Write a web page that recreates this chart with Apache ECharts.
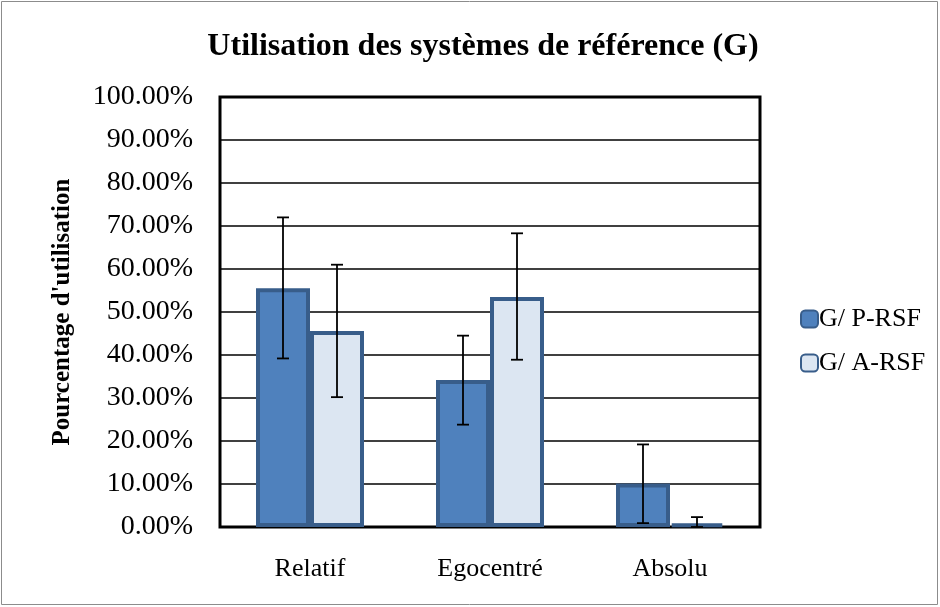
<!DOCTYPE html>
<html>
<head>
<meta charset="utf-8">
<script src="https://cdn.jsdelivr.net/npm/echarts@6/dist/echarts.min.js"></script>
<style>
  html, body { margin: 0; padding: 0; background: #fff; }
  #chart { width: 940px; height: 607px; }
</style>
</head>
<body>
<div id="chart"></div>
<script>
// values (percent)
var categories = ["Relatif", "Egocentré", "Absolu"];
var seriesNames = ["G/ P-RSF", "G/ A-RSF"];
var pValues = [55.5, 34.2, 10.1];
var aValues = [45.6, 53.5, 0.8];
// error bar ends
var pLow = [39.2, 23.8, 0.9];
var pHigh = [72.0, 44.5, 19.2];
var aLow = [30.2, 38.9, 0.0];
var aHigh = [61.0, 68.3, 2.3];

var serif = "Liberation Serif";
var barW = 54;

function errData(low, high) {
    return categories.map(function (c, i) { return [i, low[i], high[i]]; });
}

function errRender(offset) {
    return function (params, api) {
        var lo = api.coord([api.value(0), api.value(1)]);
        var hi = api.coord([api.value(0), api.value(2)]);
        var x = lo[0] + offset;
        var cap = 6;
        var style = { stroke: "#000", lineWidth: 1.8 };
        return {
            type: "group",
            children: [
                { type: "line", shape: { x1: x, y1: hi[1], x2: x, y2: lo[1] }, style: style },
                { type: "line", shape: { x1: x - cap, y1: hi[1], x2: x + cap, y2: hi[1] }, style: style },
                { type: "line", shape: { x1: x - cap, y1: lo[1], x2: x + cap, y2: lo[1] }, style: style }
            ]
        };
    };
}

var chart = echarts.init(document.getElementById("chart"));
chart.setOption({
    animation: false,
    title: {
        text: "Utilisation des systèmes de référence (G)",
        left: 478,
        textAlign: "center",
        top: 26,
        textStyle: { fontFamily: serif, fontWeight: "bold", fontSize: 32, color: "#000" }
    },
    graphic: [{
        type: "rect",
        shape: { x: 1.5, y: 1.5, width: 936, height: 603 },
        style: { fill: null, stroke: "#8c8c8c", lineWidth: 1 }
    }],
    legend: {
        orient: "vertical",
        left: 795,
        top: 301,
        itemGap: 18,
        itemWidth: 17,
        itemHeight: 17,
        icon: "roundRect",
        data: seriesNames,
        textStyle: { fontFamily: serif, fontSize: 26, color: "#000", padding: [0, 0, 0, -4] }
    },
    grid: {
        left: 220, right: 180, top: 97, bottom: 80,
        show: true, borderColor: "#000", borderWidth: 3
    },
    xAxis: {
        type: "category",
        data: categories,
        axisLine: { show: false },
        axisTick: { show: false },
        axisLabel: { fontFamily: serif, fontSize: 26, color: "#000", margin: 29 }
    },
    yAxis: {
        type: "value",
        min: 0, max: 100, interval: 10,
        name: "Pourcentage d'utilisation",
        nameLocation: "middle",
        nameGap: 145,
        nameTextStyle: { fontFamily: serif, fontWeight: "bold", fontSize: 25, color: "#000" },
        axisLine: { show: false },
        axisTick: { show: false },
        splitLine: { lineStyle: { color: "#000", width: 1.5 } },
        axisLabel: {
            fontFamily: serif, fontSize: 28, color: "#000", margin: 27,
            formatter: function (v) { return v.toFixed(2) + "%"; }
        }
    },
    series: [
        {
            name: seriesNames[0], type: "bar", data: pValues,
            barWidth: barW, barGap: "0%",
            itemStyle: { color: "#4F81BD", borderColor: "#385D8A", borderWidth: 4 }
        },
        {
            name: seriesNames[1], type: "bar", data: aValues,
            barWidth: barW, barGap: "0%",
            itemStyle: { color: "#DCE6F2", borderColor: "#385D8A", borderWidth: 4 }
        },
        {
            type: "custom", data: errData(pLow, pHigh), z: 5,
            renderItem: errRender(-barW / 2)
        },
        {
            type: "custom", data: errData(aLow, aHigh), z: 5,
            renderItem: errRender(barW / 2)
        }
    ]
});
</script>
</body>
</html>
